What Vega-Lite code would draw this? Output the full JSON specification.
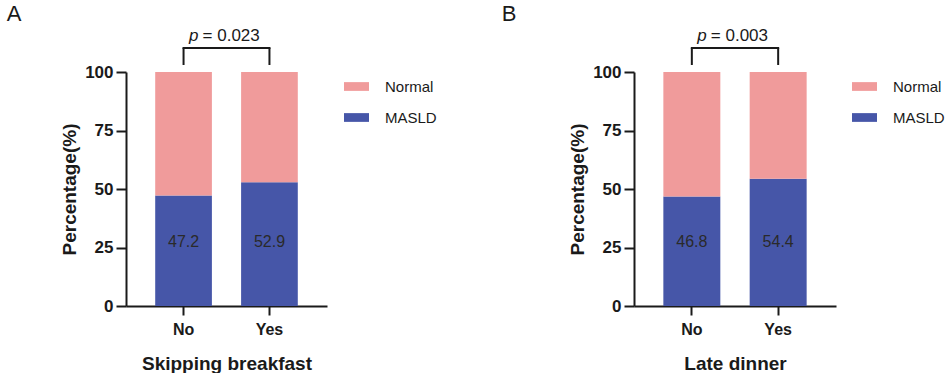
{
  "$schema": "https://vega.github.io/schema/vega-lite/v6.json",
  "background": "white",
  "padding": {"left": 6, "top": 3, "right": 0, "bottom": 0},
  "datasets": {
    "breakfast": [
      {"Group": "No", "Status": "MASLD", "Percentage": 47.2},
      {"Group": "No", "Status": "Normal", "Percentage": 52.8},
      {"Group": "Yes", "Status": "MASLD", "Percentage": 52.9},
      {"Group": "Yes", "Status": "Normal", "Percentage": 47.1}
    ],
    "dinner": [
      {"Group": "No", "Status": "MASLD", "Percentage": 46.8},
      {"Group": "No", "Status": "Normal", "Percentage": 53.2},
      {"Group": "Yes", "Status": "MASLD", "Percentage": 54.4},
      {"Group": "Yes", "Status": "Normal", "Percentage": 45.6}
    ]
  },
  "spacing": 64,
  "resolve": {"scale": {"color": "independent"}, "legend": {"color": "independent"}},
  "hconcat": [
    {
      "title": {"text": "A", "anchor": "start", "frame": "bounds", "dx": -54, "offset": 0, "dy": -1},
      "width": 201,
      "height": 234,
      "data": {"name": "breakfast"},
      "encoding": {
        "x": {"field": "Group", "type": "nominal", "sort": ["No", "Yes"],
              "scale": {"paddingInner": 0.34, "paddingOuter": 0.34},
              "axis": {"title": "Skipping breakfast"}}
      },
      "layer": [
        {
          "mark": {"type": "bar", "clip": false},
          "encoding": {
            "y": {"field": "Percentage", "type": "quantitative", "stack": "zero",
                  "scale": {"domain": [0, 100]},
                  "axis": {"title": "Percentage(%)", "values": [0, 25, 50, 75, 100]}},
            "color": {"field": "Status", "type": "nominal",
                      "scale": {"domain": ["Normal", "MASLD"], "range": ["#F09B9B", "#4656A8"]},
                      "legend": {"title": null, "orient": "none", "legendX": 218, "legendY": 2}},
            "order": {"field": "Status", "sort": "ascending"}
          }
        },
        {
          "transform": [{"filter": "datum.Status === 'MASLD'"}],
          "mark": {"type": "text", "fontSize": 16, "color": "#2a2a2a", "font": "Liberation Sans", "baseline": "middle"},
          "encoding": {"y": {"datum": 27.5}, "text": {"field": "Percentage", "type": "quantitative", "format": ".1f"}}
        },
        {
          "transform": [{"filter": "datum.Status === 'MASLD'"}],
          "mark": {"type": "rule", "strokeWidth": 2, "color": "#1a1a1a", "clip": false},
          "encoding": {"y": {"datum": 103}, "y2": {"datum": 110.3}}
        },
        {
          "transform": [{"filter": "datum.Status === 'MASLD' && datum.Group === 'No'"}],
          "mark": {"type": "rule", "strokeWidth": 2, "color": "#1a1a1a", "clip": false, "strokeCap": "square"},
          "encoding": {"x": {"datum": "No", "type": "nominal"}, "x2": {"datum": "Yes"}, "y": {"datum": 110.3}}
        },
        {
          "transform": [{"filter": "datum.Status === 'MASLD' && datum.Group === 'No'"}],
          "mark": {"type": "text", "text": "p", "fontStyle": "italic", "fontSize": 17, "font": "Liberation Sans", "align": "right", "dx": -28, "xOffset": 43, "color": "#1a1a1a", "clip": false},
          "encoding": {"x": {"datum": "No", "type": "nominal"}, "y": {"datum": 115.3}}
        },
        {
          "transform": [{"filter": "datum.Status === 'MASLD' && datum.Group === 'No'"}],
          "mark": {"type": "text", "text": "= 0.023", "fontSize": 17, "font": "Liberation Sans", "align": "left", "dx": -24, "xOffset": 43, "color": "#1a1a1a", "clip": false},
          "encoding": {"x": {"datum": "No", "type": "nominal"}, "y": {"datum": 115.3}}
        }
      ]
    },
    {
      "title": {"text": "B", "anchor": "start", "frame": "bounds", "dx": -67, "offset": 0, "dy": -1},
      "width": 202,
      "height": 234,
      "data": {"name": "dinner"},
      "encoding": {
        "x": {"field": "Group", "type": "nominal", "sort": ["No", "Yes"],
              "scale": {"paddingInner": 0.34, "paddingOuter": 0.34},
              "axis": {"title": "Late dinner"}}
      },
      "layer": [
        {
          "mark": {"type": "bar", "clip": false},
          "encoding": {
            "y": {"field": "Percentage", "type": "quantitative", "stack": "zero",
                  "scale": {"domain": [0, 100]},
                  "axis": {"title": "Percentage(%)", "values": [0, 25, 50, 75, 100]}},
            "color": {"field": "Status", "type": "nominal",
                      "scale": {"domain": ["Normal", "MASLD"], "range": ["#F09B9B", "#4656A8"]},
                      "legend": {"title": null, "orient": "none", "legendX": 218, "legendY": 2}},
            "order": {"field": "Status", "sort": "ascending"}
          }
        },
        {
          "transform": [{"filter": "datum.Status === 'MASLD'"}],
          "mark": {"type": "text", "fontSize": 16, "color": "#2a2a2a", "font": "Liberation Sans", "baseline": "middle"},
          "encoding": {"y": {"datum": 27.5}, "text": {"field": "Percentage", "type": "quantitative", "format": ".1f"}}
        },
        {
          "transform": [{"filter": "datum.Status === 'MASLD'"}],
          "mark": {"type": "rule", "strokeWidth": 2, "color": "#1a1a1a", "clip": false},
          "encoding": {"y": {"datum": 103}, "y2": {"datum": 110.3}}
        },
        {
          "transform": [{"filter": "datum.Status === 'MASLD' && datum.Group === 'No'"}],
          "mark": {"type": "rule", "strokeWidth": 2, "color": "#1a1a1a", "clip": false, "strokeCap": "square"},
          "encoding": {"x": {"datum": "No", "type": "nominal"}, "x2": {"datum": "Yes"}, "y": {"datum": 110.3}}
        },
        {
          "transform": [{"filter": "datum.Status === 'MASLD' && datum.Group === 'No'"}],
          "mark": {"type": "text", "text": "p", "fontStyle": "italic", "fontSize": 17, "font": "Liberation Sans", "align": "right", "dx": -28, "xOffset": 43, "color": "#1a1a1a", "clip": false},
          "encoding": {"x": {"datum": "No", "type": "nominal"}, "y": {"datum": 115.3}}
        },
        {
          "transform": [{"filter": "datum.Status === 'MASLD' && datum.Group === 'No'"}],
          "mark": {"type": "text", "text": "= 0.003", "fontSize": 17, "font": "Liberation Sans", "align": "left", "dx": -24, "xOffset": 43, "color": "#1a1a1a", "clip": false},
          "encoding": {"x": {"datum": "No", "type": "nominal"}, "y": {"datum": 115.3}}
        }
      ]
    }
  ],
  "config": {
    "view": {"stroke": null},
    "font": "Liberation Sans",
    "title": {"font": "Liberation Sans", "fontSize": 22, "fontWeight": "normal", "color": "#1a1a1a"},
    "axis": {"grid": false, "domainColor": "#1a1a1a", "domainWidth": 2, "tickColor": "#1a1a1a", "tickWidth": 2,
             "labelColor": "#1a1a1a", "titleColor": "#1a1a1a", "labelFont": "Liberation Sans", "titleFont": "Liberation Sans",
             "labelFontWeight": "bold", "titleFontWeight": "bold"},
    "axisY": {"tickSize": 10, "labelFontSize": 17, "labelPadding": 3, "titleFontSize": 19, "titlePadding": 5},
    "axisX": {"tickSize": 9, "labelFontSize": 16, "labelPadding": 6, "labelAngle": 0, "titleFontSize": 19, "titlePadding": 17},
    "legend": {"labelFont": "Liberation Sans", "labelFontSize": 15, "labelColor": "#1a1a1a", "labelOffset": 16,
               "symbolType": "M-1,-0.35L1,-0.35L1,0.35L-1,0.35Z", "symbolSize": 625, "symbolStrokeWidth": 0,
               "rowPadding": 10, "padding": 0}
  }
}
